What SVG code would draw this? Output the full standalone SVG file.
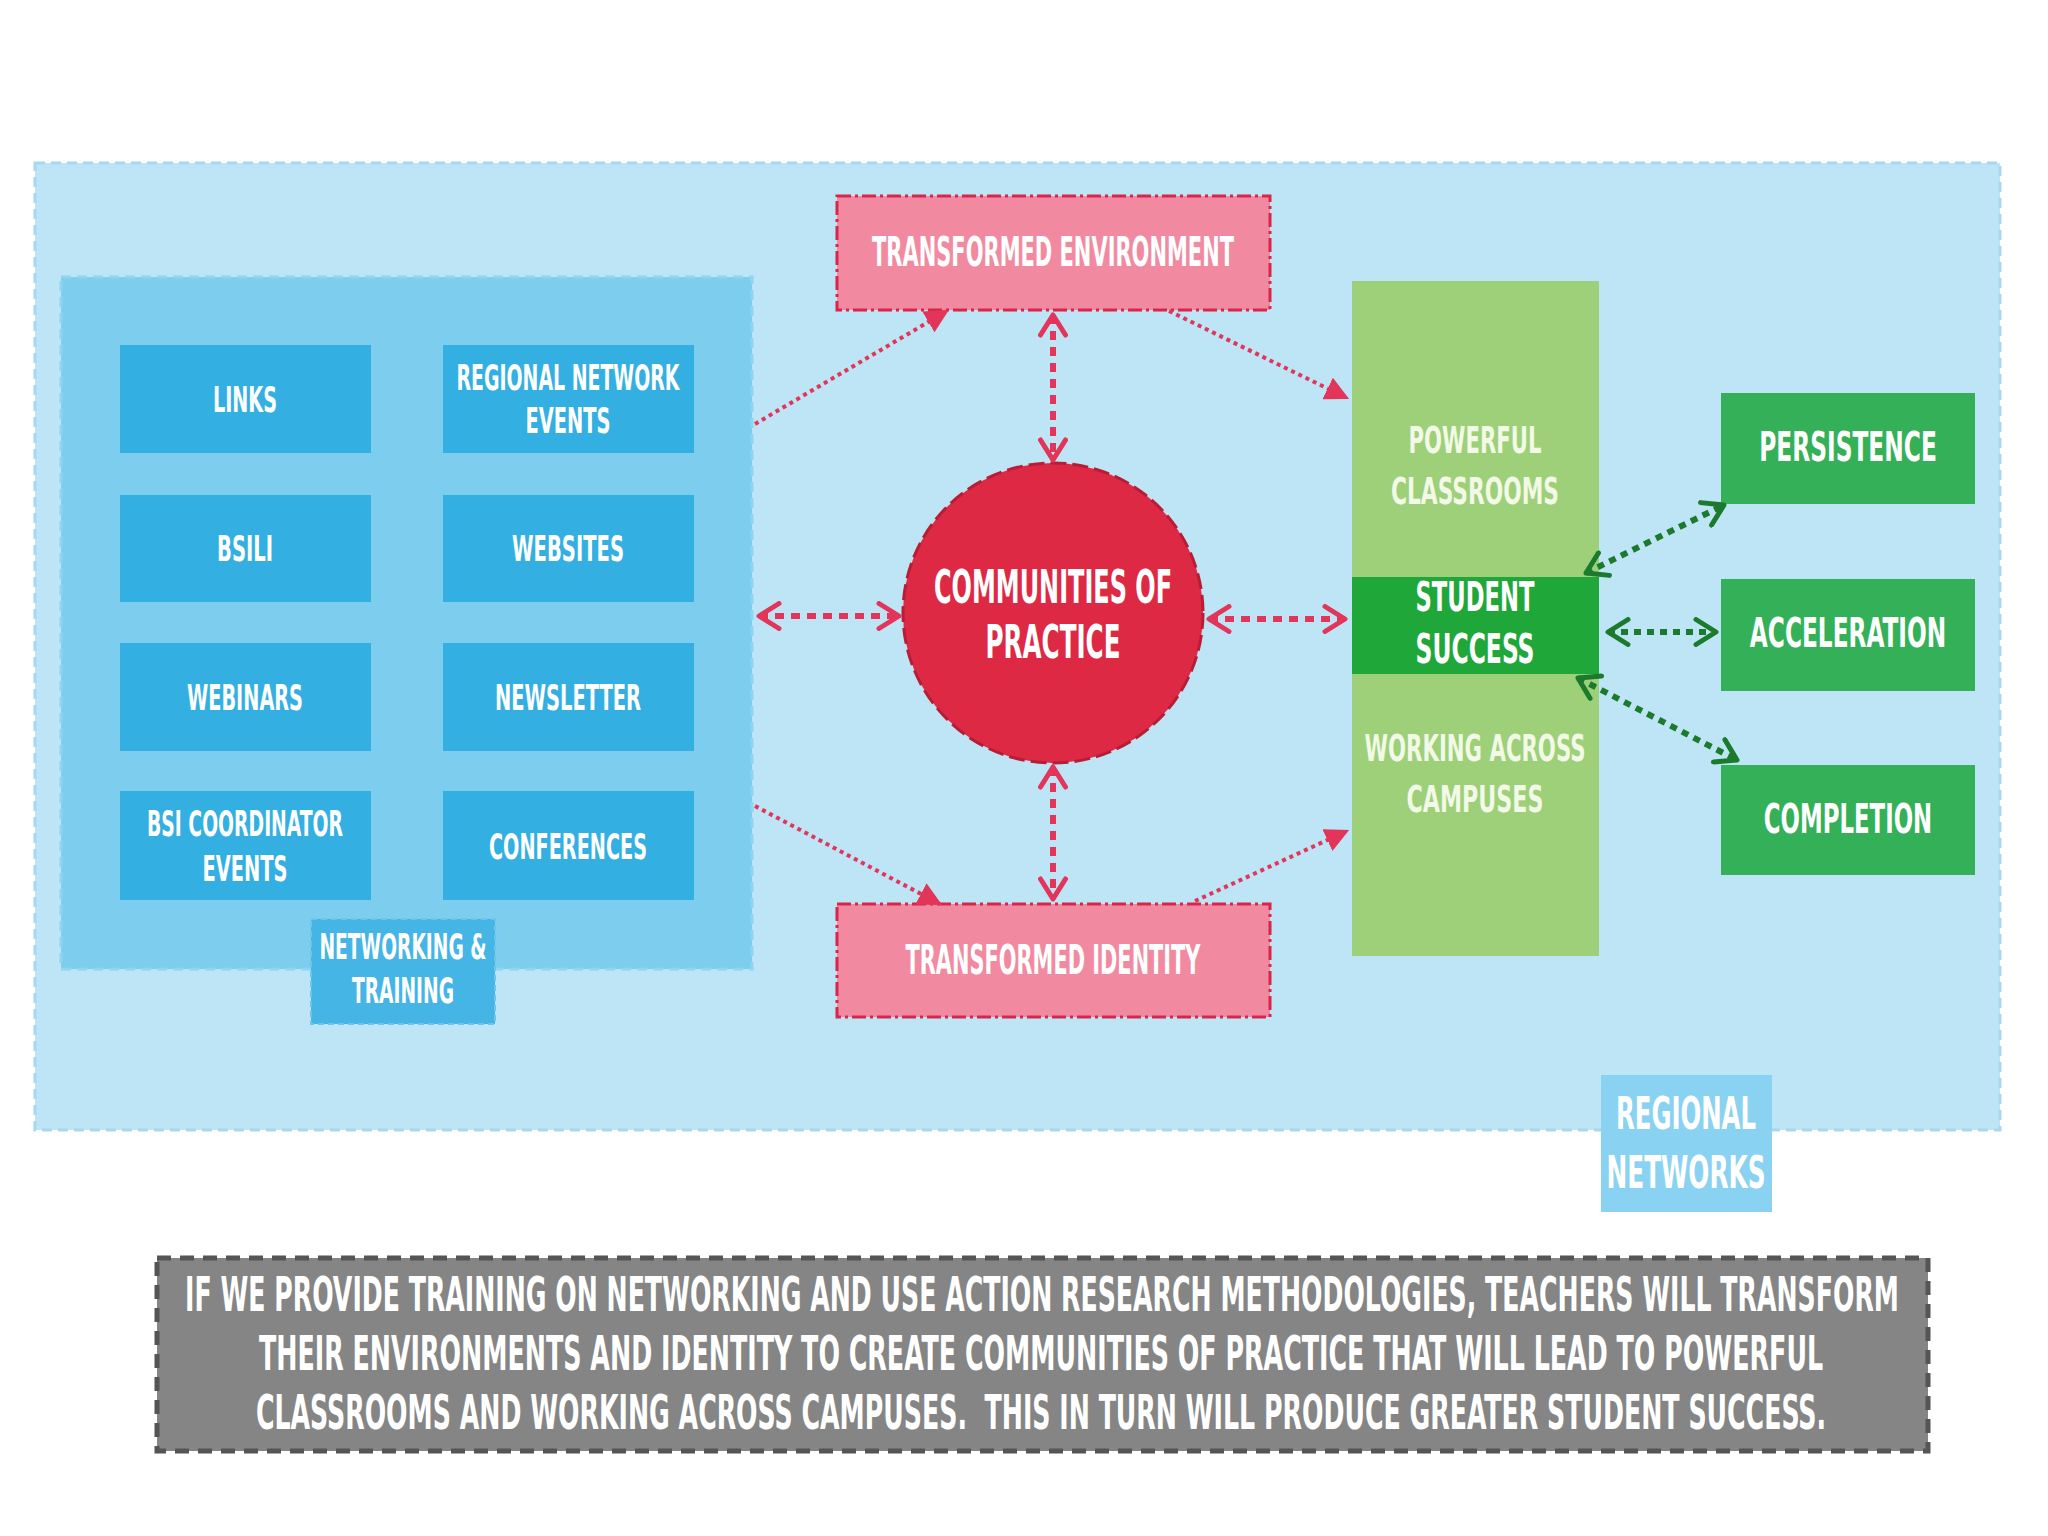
<svg xmlns="http://www.w3.org/2000/svg" width="2048" height="1536" viewBox="0 0 2048 1536">
<style>
.t{font-family:"Liberation Sans Narrow","DejaVu Sans Condensed","Liberation Sans",sans-serif;font-weight:bold;fill:#ffffff;text-anchor:middle;}
.s{font-size:36px;}
.m{font-size:40px;}
.g{fill:#f2f9e6;}
.grid{fill:#34afe2;}
.pink{fill:#f18aa0;stroke:#d9254a;stroke-width:3;stroke-dasharray:14 4 3 4;}
.rgreen{fill:#34b158;}
.dotR{stroke:#e3345a;stroke-width:4;stroke-dasharray:4 4;fill:none;}
.dashR{stroke:#e3345a;stroke-width:6;stroke-dasharray:9 7;fill:none;}
.dotG{stroke:#1b7a2c;stroke-width:6;stroke-dasharray:7 6;fill:none;}
</style>
<defs>
<marker id="tri" viewBox="0 0 20 20" refX="18" refY="10" markerWidth="24" markerHeight="24" markerUnits="userSpaceOnUse" orient="auto">
<path d="M0,0 L20,10 L0,20 z" fill="#e3345a"/>
</marker>
<marker id="chevR" viewBox="0 0 24 24" refX="21" refY="12" markerWidth="30" markerHeight="30" markerUnits="userSpaceOnUse" orient="auto-start-reverse">
<path d="M5,2 L21,12 L5,22" fill="none" stroke="#e3345a" stroke-width="4" stroke-linecap="round" stroke-linejoin="round"/>
</marker>
<marker id="chevG" viewBox="0 0 24 24" refX="21" refY="12" markerWidth="30" markerHeight="30" markerUnits="userSpaceOnUse" orient="auto-start-reverse">
<path d="M5,2 L21,12 L5,22" fill="none" stroke="#1b7a2c" stroke-width="4" stroke-linecap="round" stroke-linejoin="round"/>
</marker>
</defs>
<rect width="2048" height="1536" fill="#ffffff"/>

<g id="regional-networks">
<rect x="35" y="163" width="1965" height="967" fill="#bde5f5" stroke="#a6d9ef" stroke-width="3" stroke-dasharray="10 6"/>
<rect x="1601" y="1075" width="171" height="137" fill="#8ad2f1"/>
<text class="t" font-size="44" x="1686" y="1129" textLength="140" lengthAdjust="spacingAndGlyphs">REGIONAL</text>
<text class="t" font-size="44" x="1686" y="1188" textLength="159" lengthAdjust="spacingAndGlyphs">NETWORKS</text>
</g>

<g id="networking-training">
<rect x="61" y="277" width="691" height="692" fill="#7dcdee" stroke="#8fd4f0" stroke-width="3" stroke-dasharray="10 6"/>
<rect x="311" y="919" width="184" height="105" fill="#45b5e5" stroke="#6cc6ec" stroke-width="2" stroke-dasharray="6 4"/>
<text class="t s" x="403" y="959" textLength="167" lengthAdjust="spacingAndGlyphs">NETWORKING &amp;</text>
<text class="t s" x="403" y="1003" textLength="102" lengthAdjust="spacingAndGlyphs">TRAINING</text>
</g>

<g id="links"><rect class="grid" x="120" y="345" width="251" height="108"/>
<text class="t s" x="245" y="412" textLength="64" lengthAdjust="spacingAndGlyphs">LINKS</text></g>
<g id="regional-network-events"><rect class="grid" x="443" y="345" width="251" height="108"/>
<text class="t s" x="568" y="390" textLength="223" lengthAdjust="spacingAndGlyphs">REGIONAL NETWORK</text>
<text class="t s" x="568" y="433" textLength="85" lengthAdjust="spacingAndGlyphs">EVENTS</text></g>
<g id="bsili"><rect class="grid" x="120" y="495" width="251" height="107"/>
<text class="t s" x="245" y="561" textLength="56" lengthAdjust="spacingAndGlyphs">BSILI</text></g>
<g id="websites"><rect class="grid" x="443" y="495" width="251" height="107"/>
<text class="t s" x="568" y="561" textLength="112" lengthAdjust="spacingAndGlyphs">WEBSITES</text></g>
<g id="webinars"><rect class="grid" x="120" y="643" width="251" height="108"/>
<text class="t s" x="245" y="710" textLength="116" lengthAdjust="spacingAndGlyphs">WEBINARS</text></g>
<g id="newsletter"><rect class="grid" x="443" y="643" width="251" height="108"/>
<text class="t s" x="568" y="710" textLength="146" lengthAdjust="spacingAndGlyphs">NEWSLETTER</text></g>
<g id="bsi-coordinator-events"><rect class="grid" x="120" y="791" width="251" height="109"/>
<text class="t s" x="245" y="836" textLength="196" lengthAdjust="spacingAndGlyphs">BSI COORDINATOR</text>
<text class="t s" x="245" y="881" textLength="85" lengthAdjust="spacingAndGlyphs">EVENTS</text></g>
<g id="conferences"><rect class="grid" x="443" y="791" width="251" height="109"/>
<text class="t s" x="568" y="859" textLength="158" lengthAdjust="spacingAndGlyphs">CONFERENCES</text></g>

<g id="transformed-environment"><rect class="pink" x="837" y="196" width="433" height="114"/>
<text class="t m" x="1053" y="266" textLength="362" lengthAdjust="spacingAndGlyphs">TRANSFORMED ENVIRONMENT</text></g>
<g id="transformed-identity"><rect class="pink" x="837" y="904" width="433" height="113"/>
<text class="t m" transform="translate(1053,974) scale(0.85,1)" x="0" y="0" textLength="347" lengthAdjust="spacingAndGlyphs">TRANSFORMED IDENTITY</text></g>

<g id="communities-of-practice"><circle cx="1053" cy="613" r="150" fill="#dd2944" stroke="#b81d36" stroke-width="3" stroke-dasharray="16 6"/>
<text class="t" font-size="46" x="1053" y="603" textLength="238" lengthAdjust="spacingAndGlyphs">COMMUNITIES OF</text>
<text class="t" font-size="46" x="1053" y="658" textLength="135" lengthAdjust="spacingAndGlyphs">PRACTICE</text></g>

<g id="outcomes-column"><rect x="1352" y="281" width="247" height="675" fill="#9dd079"/>
<text class="t g" font-size="38" x="1475" y="453" textLength="133" lengthAdjust="spacingAndGlyphs">POWERFUL</text>
<text class="t g" font-size="38" x="1475" y="504" textLength="168" lengthAdjust="spacingAndGlyphs">CLASSROOMS</text>
<text class="t g" font-size="38" x="1475" y="761" textLength="221" lengthAdjust="spacingAndGlyphs">WORKING ACROSS</text>
<text class="t g" font-size="38" x="1475" y="812" textLength="137" lengthAdjust="spacingAndGlyphs">CAMPUSES</text></g>
<g id="student-success"><rect x="1352" y="577" width="247" height="97" fill="#1fa839"/>
<text class="t" font-size="40" x="1475" y="611" textLength="119" lengthAdjust="spacingAndGlyphs">STUDENT</text>
<text class="t" font-size="40" x="1475" y="663" textLength="119" lengthAdjust="spacingAndGlyphs">SUCCESS</text></g>

<g id="persistence"><rect class="rgreen" x="1721" y="393" width="254" height="111"/>
<text class="t m" transform="translate(1848,461) scale(0.85,1)" x="0" y="0" textLength="209" lengthAdjust="spacingAndGlyphs">PERSISTENCE</text></g>
<g id="acceleration"><rect class="rgreen" x="1721" y="579" width="254" height="112"/>
<text class="t m" transform="translate(1848,647) scale(0.85,1)" x="0" y="0" textLength="231" lengthAdjust="spacingAndGlyphs">ACCELERATION</text></g>
<g id="completion"><rect class="rgreen" x="1721" y="765" width="254" height="110"/>
<text class="t m" transform="translate(1848,833) scale(0.85,1)" x="0" y="0" textLength="198" lengthAdjust="spacingAndGlyphs">COMPLETION</text></g>

<g id="hypothesis"><rect x="157" y="1258" width="1771" height="193" fill="#858585" stroke="#555555" stroke-width="5" stroke-dasharray="14 9"/>
<text class="t" font-size="48" transform="translate(1042,1311) scale(0.55,1)" x="0" y="0" textLength="3116" lengthAdjust="spacingAndGlyphs">IF WE PROVIDE TRAINING ON NETWORKING AND USE ACTION RESEARCH METHODOLOGIES, TEACHERS WILL TRANSFORM</text>
<text class="t" font-size="48" transform="translate(1041,1370) scale(0.55,1)" x="0" y="0" textLength="2844" lengthAdjust="spacingAndGlyphs">THEIR ENVIRONMENTS AND IDENTITY TO CREATE COMMUNITIES OF PRACTICE THAT WILL LEAD TO POWERFUL</text>
<text class="t" font-size="48" transform="translate(1041,1429) scale(0.55,1)" x="0" y="0" textLength="2855" lengthAdjust="spacingAndGlyphs">CLASSROOMS AND WORKING ACROSS CAMPUSES.&#160; THIS IN TURN WILL PRODUCE GREATER STUDENT SUCCESS.</text></g>

<g id="connectors">
<line class="dotR" x1="755" y1="424" x2="947" y2="311" marker-end="url(#tri)"/>
<line class="dotR" x1="1169" y1="311" x2="1347" y2="398" marker-end="url(#tri)"/>
<line class="dotR" x1="755" y1="806" x2="940" y2="904" marker-end="url(#tri)"/>
<line class="dotR" x1="1195" y1="901" x2="1347" y2="831" marker-end="url(#tri)"/>
<line class="dashR" x1="1053" y1="315" x2="1053" y2="460" marker-start="url(#chevR)" marker-end="url(#chevR)"/>
<line class="dashR" x1="1053" y1="767" x2="1053" y2="899" marker-start="url(#chevR)" marker-end="url(#chevR)"/>
<line class="dashR" x1="759" y1="616" x2="899" y2="616" marker-start="url(#chevR)" marker-end="url(#chevR)"/>
<line class="dashR" x1="1209" y1="619" x2="1345" y2="619" marker-start="url(#chevR)" marker-end="url(#chevR)"/>
<line class="dotG" x1="1586" y1="573" x2="1724" y2="505" marker-start="url(#chevG)" marker-end="url(#chevG)"/>
<line class="dotG" x1="1608" y1="632" x2="1716" y2="632" marker-start="url(#chevG)" marker-end="url(#chevG)"/>
<line class="dotG" x1="1578" y1="678" x2="1737" y2="760" marker-start="url(#chevG)" marker-end="url(#chevG)"/>
</g>
</svg>
